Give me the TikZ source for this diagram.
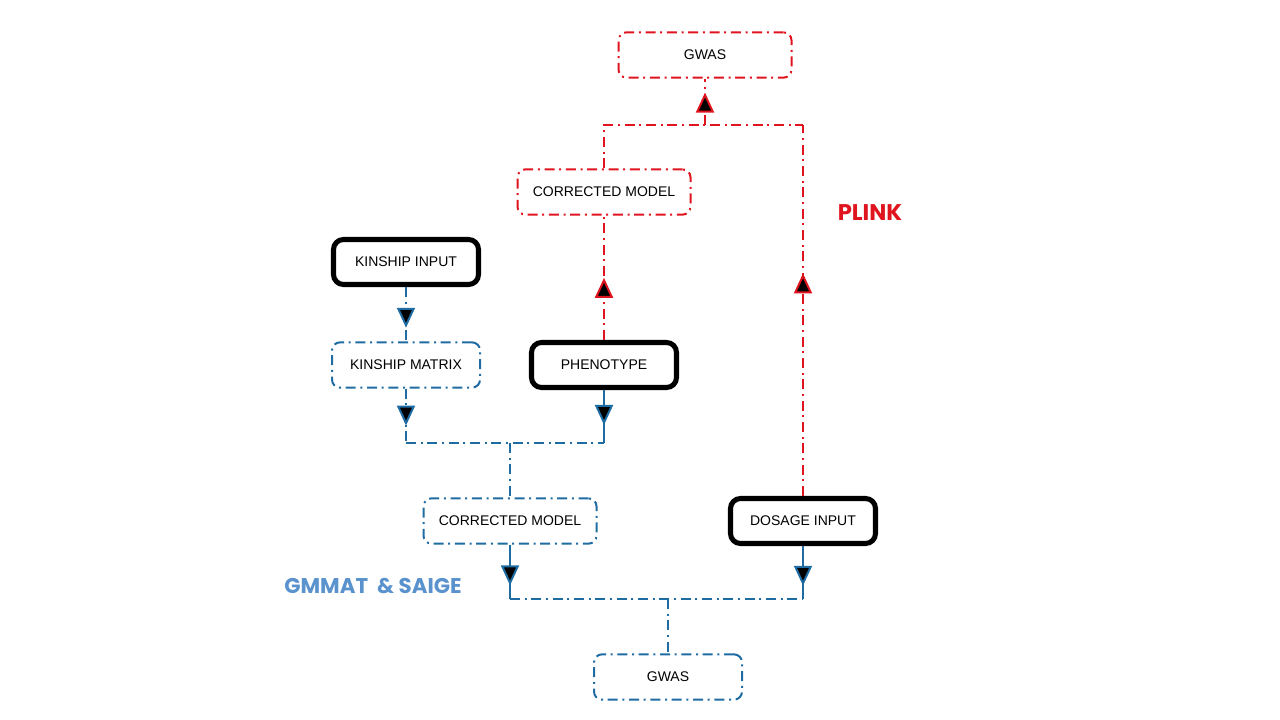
\documentclass[tikz,border=0pt]{standalone}
\usepackage{fontspec}
\setmainfont{Liberation Sans}
\newfontfamily\labelfont{Poppins}
\usepackage{xcolor}
\usetikzlibrary{positioning,calc,decorations.markings}
\usetikzlibrary{arrows.meta}
\definecolor{plinkred}{RGB}{224,20,30}
\definecolor{gmblue}{RGB}{31,108,163}
\definecolor{labelblue}{RGB}{90,146,206}
\tikzset{box text/.style={font=\fontsize{10.5}{12}\selectfont}}
\tikzset{dashdot line/.style={dash pattern=on 7.5pt off 3.5pt on 1.5pt off 3.5pt}}
\tikzset{input node/.style={rectangle,rounded corners=7.5pt,draw=black,line width=3.8pt,minimum width=108.75pt,minimum height=33.75pt,inner sep=0pt,box text}}
\tikzset{blue node/.style={rectangle,rounded corners=6pt,draw=gmblue,line width=1.5pt,dashdot line,minimum width=111pt,minimum height=34pt,inner sep=0pt,box text}}
\tikzset{red node/.style={blue node,draw=plinkred}}
\tikzset{blue line/.style={gmblue,line width=1.5pt,dashdot line}}
\tikzset{red line/.style={plinkred,line width=1.5pt,dashdot line}}
\tikzset{mid arrow/.style={postaction={decorate},decoration={markings,mark=at position #1 with {\arrow{Triangle[width=13.5pt,length=15pt,fill=black]}}}},mid arrow/.default=0.5}

\begin{document}
\begin{tikzpicture}[auto, on grid, x=0.75pt, y=-0.75pt]
  \useasboundingbox (0,0) rectangle (1280,720);
  % GMMAT & SAIGE side
  \node[input node] (kinIn) at (406,262) {KINSHIP INPUT};
  \node[blue node] (kinMat) [below = 77.25pt of kinIn] {KINSHIP MATRIX};
  \node[input node] (pheno) [right = 148.5pt of kinMat] {PHENOTYPE};
  \node[blue node, minimum width=129.75pt] (corrB) [below right = 117pt and 78pt of kinMat] {CORRECTED MODEL};
  \node[input node] (dose) [right = 219.75pt of corrB] {DOSAGE INPUT};
  \node[blue node] (gwasB) [below right = 117pt and 118.5pt of corrB] {GWAS};
  % PLINK side
  \node[red node, minimum width=129.75pt] (corrR) [above = 129.75pt of pheno] {CORRECTED MODEL};
  \node[red node, minimum width=129.75pt] (gwasR) [above right = 102.75pt and 75.75pt of corrR] {GWAS};
  % junctions
  \coordinate[below = 52.5pt of gwasR] (jR);
  \coordinate (corrRC) at (corrR |- jR);
  \coordinate (doseRC) at (dose |- jR);
  \coordinate[above = 58.5pt of corrB] (jB1);
  \coordinate (kinC) at (kinMat |- jB1);
  \coordinate (phenoC) at (pheno |- jB1);
  \coordinate[above = 58.5pt of gwasB] (jB2);
  \coordinate (corrBC) at (corrB |- jB2);
  \coordinate (doseBC) at (dose |- jB2);
  % blue connectors
  \draw[blue line, mid arrow=0.75] (kinIn) -- (kinMat);
  \draw[blue line, mid arrow=0.68] (kinMat) -- (kinC);
  \draw[blue line, solid, mid arrow=0.66] (pheno) -- (phenoC);
  \draw[blue line] (kinC) -- (phenoC);
  \draw[blue line] (jB1) -- (corrB);
  \draw[blue line, solid, mid arrow=0.75] (corrB) -- (corrBC);
  \draw[blue line, solid, mid arrow=0.75] (dose) -- (doseBC);
  \draw[blue line] (corrBC) -- (doseBC);
  \draw[blue line] (jB2) -- (gwasB);
  % red connectors
  \draw[red line, mid arrow=0.5] (pheno) -- (corrR);
  \draw[red line, mid arrow=0.6] (dose) -- (doseRC);
  \draw[red line] (corrR) -- (corrRC) -- (doseRC);
  \draw[red line, mid arrow=0.7] (jR) -- (gwasR);
  % labels
  \node[font=\labelfont\bfseries\fontsize{17}{20}\selectfont, text=plinkred] (plink) at (870,213) {PLINK};
  \node[font=\labelfont\bfseries\fontsize{16}{19}\selectfont, text=labelblue] (gmmat) at (373,586) {GMMAT \ \& SAIGE};
\end{tikzpicture}
\end{document}
